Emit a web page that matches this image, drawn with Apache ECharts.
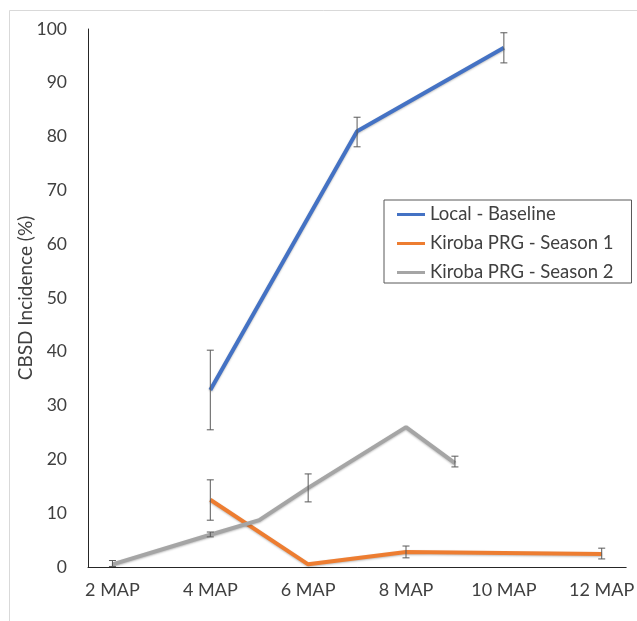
<!DOCTYPE html>
<html>
<head>
<meta charset="utf-8">
<script src="https://cdn.jsdelivr.net/npm/echarts@6/dist/echarts.min.js"></script>
<style>
html,body{margin:0;padding:0;background:#fff;}
#chart{width:637px;height:621px;}
</style>
</head>
<body>
<div id="chart"></div>
<script>
// Categories: months after planting (labels shown on even months)
const categories = ['2 MAP','3 MAP','4 MAP','5 MAP','6 MAP','7 MAP','8 MAP','9 MAP','10 MAP','11 MAP','12 MAP'];
const seriesNames = ['Local - Baseline','Kiroba PRG - Season 1','Kiroba PRG - Season 2'];
const yTicks = [0,10,20,30,40,50,60,70,80,90,100];

const localBaseline = [null,null,32.9,null,null,81.0,null,null,96.5,null,null];
const kirobaS1      = [null,null,12.5,null,0.5,null,2.8,null,2.6,null,2.4];
const kirobaS2      = [0.5,null,6.0,8.7,14.7,null,26.0,19.3,null,null,null];

// Error bars: [categoryIndex, low, high]
const errLocal = [[2,25.5,40.3],[5,78.1,83.6],[8,93.7,99.3]];
const errS1    = [[2,8.7,16.2],[6,1.7,3.9],[10,1.5,3.5]];
const errS2    = [[0,0.1,1.2],[2,5.6,6.5],[4,12.1,17.3],[7,18.6,20.6]];

const colors = ['#4472C4','#ED7D31','#A5A5A5'];
const FONT = 'Lato';

function errRender(params, api){
  const x = api.value(0);
  const lo = api.coord([x, api.value(1)]);
  const hi = api.coord([x, api.value(2)]);
  const cw = 3.5;
  const st = {stroke:'#595959', lineWidth:1};
  return {type:'group', children:[
    {type:'line', shape:{x1:lo[0],y1:lo[1],x2:hi[0],y2:hi[1]}, style:st},
    {type:'line', shape:{x1:lo[0]-cw,y1:lo[1],x2:lo[0]+cw,y2:lo[1]}, style:st},
    {type:'line', shape:{x1:hi[0]-cw,y1:hi[1],x2:hi[0]+cw,y2:hi[1]}, style:st}
  ]};
}

const chart = echarts.init(document.getElementById('chart'), null, {renderer:'canvas'});
const lineData = [localBaseline, kirobaS1, kirobaS2];
const errData = [errLocal, errS1, errS2];

const series = [];
lineData.forEach((d,i)=>{
  series.push({
    name: seriesNames[i], type:'line', data:d, connectNulls:true,
    showSymbol:false, symbol:'none', color:colors[i],
    lineStyle:{width:4, color:colors[i], shadowColor:'rgba(0,0,0,0.25)', shadowBlur:2, shadowOffsetY:1},
    z: 2+i, animation:false
  });
});
errData.forEach((d,i)=>{
  series.push({type:'custom', renderItem:errRender, data:d, z:10, animation:false, silent:true,
    encode:{x:0,y:[1,2]}});
});

chart.setOption({
  backgroundColor:'#fff',
  animation:false,
  graphic:[{type:'rect', shape:{x:9.5,y:10.5,width:700,height:700}, style:{fill:'none',stroke:'#d9d9d9',lineWidth:1}, silent:true}],
  grid:{left:88, right:4, top:29, bottom:54, containLabel:false},
  legend:{
    data: seriesNames, orient:'vertical', left:384, top:200,
    backgroundColor:'#fff', borderColor:'#595959', borderWidth:1,
    padding:[5,18,1,13], itemGap:10, itemWidth:28, itemHeight:3, icon:'rect',
    textStyle:{fontFamily:FONT, fontSize:18.5, color:'#404040', lineHeight:18}
  },
  xAxis:{
    type:'category', data:categories, boundaryGap:true,
    axisLine:{lineStyle:{color:'#262626', width:1}},
    axisTick:{show:false},
    axisLabel:{interval:1, margin:14, fontFamily:FONT, fontSize:18, color:'#404040'},
    splitLine:{show:false}
  },
  yAxis:{
    type:'value', min:yTicks[0], max:yTicks[yTicks.length-1], interval:10,
    name:'CBSD Incidence (%)', nameLocation:'middle', nameGap:53, nameMoveOverlap:false,
    nameTextStyle:{fontFamily:FONT, fontSize:19, color:'#404040'},
    axisLine:{show:true, lineStyle:{color:'#262626', width:1}},
    axisTick:{show:false},
    axisLabel:{margin:21, fontFamily:FONT, fontSize:17.5, color:'#404040'},
    splitLine:{show:false}
  },
  series: series
});
</script>
</body>
</html>
